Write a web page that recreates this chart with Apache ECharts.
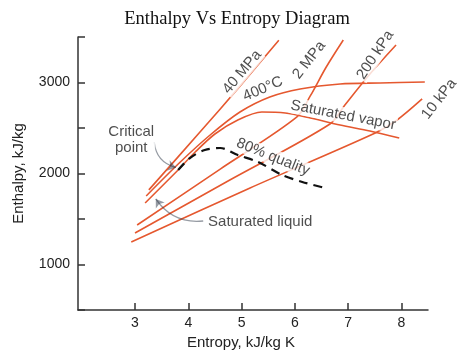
<!DOCTYPE html>
<html><head><meta charset="utf-8">
<script src="https://cdn.jsdelivr.net/npm/echarts@6/dist/echarts.min.js"></script>
<style>html,body{margin:0;padding:0;background:#fff}#c{width:474px;height:355px}</style>
</head><body><div id="c"></div>
<script>
// ---- data (entropy kJ/kg K, enthalpy kJ/kg) ----
const chartTitle = 'Enthalpy Vs Entropy Diagram';
const xTickValues = [3, 4, 5, 6, 7, 8];
const yLabelValues = [1000, 2000, 3000];
const p40MPa = [[3.26,1820],[4.22,2455],[4.97,2960],[5.70,3465]];
const t400C = [[3.21,1753],[3.85,2126],[4.41,2423],[4.97,2676],[5.53,2841],[6.10,2929],[6.85,2984],[7.60,2995],[8.44,3005]];
const satLiquid = [[3.19,1676],[3.81,2038]];
const satVapor = [[3.81,2038],[4.13,2236],[4.50,2434],[4.93,2588],[5.38,2676],[5.82,2665],[6.29,2610],[6.85,2533],[7.41,2467],[7.96,2390]];
const p2MPa = [[3.04,1434],[4.60,2049],[6.04,2621],[6.29,2852],[6.59,3170],[6.91,3467]];
const p200kPa = [[3.00,1346],[4.78,1929],[6.66,2544],[6.94,2753],[7.41,3093],[7.90,3412]];
const p10kPa = [[2.93,1247],[5.16,1841],[7.51,2445],[7.92,2588],[8.39,2819]];
const quality80 = [[3.81,2038],[4.03,2170],[4.31,2258],[4.60,2280],[4.93,2203],[5.31,2126],[5.76,1984],[6.14,1907],[6.57,1841]];
// annotation texts and anchors (data coords)
const annoText = ['40 MPa','400°C','2 MPa','200 kPa','10 kPa','Saturated vapor','80% quality','Critical\npoint','Saturated liquid'];
const annoAt = [[5.01,3115],[5.40,2929],[6.27,3247],[7.51,3302],[8.71,2819],[6.91,2640],[5.59,2181],[2.93,2368],[5.35,1467]];
const arrowFrom = [[3.36,2346],[4.28,1478]];
const arrowTo = [[3.77,2066],[3.39,1720]];

// ---- chart ----
const annoRotate = [50,23,52,57,52,-11,-22,0,0];
const RED = '#e5582f';
const INK = '#222';
const chart = echarts.init(document.getElementById('c'));
function curve(name, data, extra) {
  return Object.assign({
    name, type: 'line', data, smooth: 0.3, symbol: 'none', z: 3,
    lineStyle: { color: RED, width: 1.6 }
  }, extra || {});
}
chart.setOption({
  animation: false,
  backgroundColor: '#fff',
  title: { text: chartTitle, left: 'center', top: 5,
    textStyle: { fontFamily: 'Liberation Serif', fontSize: 18.5, fontWeight: 'normal', color: '#111' } },
  grid: { left: 78, right: 46, top: 37, bottom: 45, containLabel: false, outerBoundsMode: 'none' },
  xAxis: {
    type: 'value', min: 1.93, max: 8.5,
    name: 'Entropy, kJ/kg K', nameLocation: 'middle', nameGap: 24,
    nameTextStyle: { fontFamily: 'Liberation Sans', fontSize: 15, color: INK, padding: [0, 24, 0, 0] },
    axisLine: { onZero: false, lineStyle: { color: '#333', width: 1.5 } },
    axisTick: { inside: true, length: 7, customValues: xTickValues, lineStyle: { color: '#333', width: 1.5 } },
    axisLabel: { customValues: xTickValues, margin: 6, fontFamily: 'Liberation Sans', fontSize: 14, color: INK },
    splitLine: { show: false }
  },
  yAxis: {
    type: 'value', min: 500, max: 3500, interval: 500,
    name: 'Enthalpy, kJ/kg', nameLocation: 'middle', nameGap: 52, nameRotate: 90,
    nameTextStyle: { fontFamily: 'Liberation Sans', fontSize: 15, color: INK },
    axisLine: { show: true, onZero: false, lineStyle: { color: '#333', width: 1.5 } },
    axisTick: { show: true, inside: true, length: 7, lineStyle: { color: '#333', width: 1.5 } },
    axisLabel: { margin: 8, fontFamily: 'Liberation Sans', fontSize: 14, color: INK,
      formatter: v => yLabelValues.indexOf(v) >= 0 ? String(v) : '' },
    splitLine: { show: false }
  },
  series: [
    curve('40 MPa', p40MPa),
    curve('400°C', t400C),
    curve('Saturated liquid', satLiquid, { smooth: false }),
    curve('Saturated vapor', satVapor),
    curve('2 MPa', p2MPa),
    curve('200 kPa', p200kPa),
    curve('10 kPa', p10kPa),
    curve('80% quality', quality80, { lineStyle: { color: '#111', width: 2.2, type: [9, 6] }, z: 4 }),
    {
      type: 'lines', coordinateSystem: 'cartesian2d', z: 5,
      symbol: ['none', 'arrow'], symbolSize: 8,
      lineStyle: { color: '#2f3a4a', width: 1.3, curveness: -0.3 },
      data: [
        { coords: [arrowFrom[0], arrowTo[0]], lineStyle: { curveness: -0.35 } },
        { coords: [arrowFrom[1], arrowTo[1]], lineStyle: { curveness: 0.3 } }
      ]
    },
    {
      type: 'scatter', z: 10, clip: false, symbolSize: 1, itemStyle: { color: 'rgba(0,0,0,0)' },
      data: annoAt.map((p, i) => ({
        value: p,
        label: { show: true, position: 'inside', formatter: annoText[i], rotate: annoRotate[i],
          fontFamily: 'Liberation Sans', fontSize: 15, color: INK, lineHeight: 16,
          backgroundColor: '#fff', padding: [0, 1] }
      }))
    }
  ]
});
</script>
</body></html>
